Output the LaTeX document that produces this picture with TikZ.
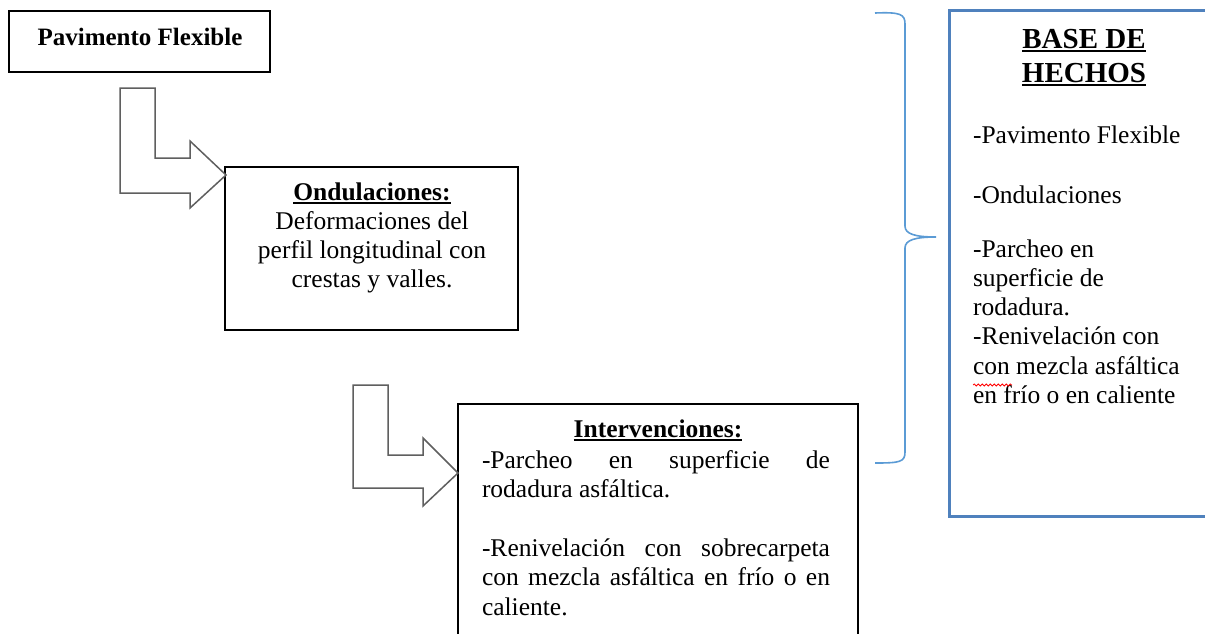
\documentclass[tikz,border=0pt]{standalone}
\usepackage{fontspec}
\setmainfont{Liberation Serif}
\usetikzlibrary{decorations.pathmorphing}
\definecolor{bracecol}{RGB}{91,155,213}
\definecolor{basecol}{RGB}{79,129,189}
\definecolor{arrowcol}{RGB}{95,95,95}
\newcommand\myul[1]{\leavevmode\setbox0\hbox{#1}\rlap{\rule[-4.2pt]{\wd0}{1.8pt}}\box0}
\newcommand\bodyfont{\fontsize{25.5pt}{29.3pt}\selectfont}
\tikzset{
  boxst/.style={draw=black, line width=1.4pt, fill=white},
  basest/.style={draw=basecol, line width=3pt, fill=white},
  bentarrow/.style={draw=arrowcol, line width=1.5pt, fill=white, line join=miter},
  txt/.style={inner sep=0pt, outer sep=0pt},
  bracest/.style={draw=bracecol, line width=1.6pt},
}
\begin{document}
\begin{tikzpicture}[x=1pt,y=-1pt]
\useasboundingbox (0,0) rectangle (1205,633);
\clip (0,0) rectangle (1205,633);
\fill[white] (0,0) rectangle (1205,633);

% boxes
\draw[boxst] (9,11) rectangle (270,72);
\node[txt] (pav) at (139.5,41.5) {};
\node[txt, anchor=base] (pavT) at (140,45) {\fontsize{25pt}{29pt}\selectfont\bfseries Pavimento Flexible};

\draw[boxst] (225,167) rectangle (518,330);
\node[txt] (ond) at (371.5,248.5) {};
\node[txt, anchor=base] (ondT) at (372,200) {\parbox[t]{290pt}{\centering\fontsize{25.5pt}{29pt}\selectfont
  \myul{\bfseries Ondulaciones:}\\
  Deformaciones del\\
  perfil longitudinal con\\
  crestas y valles.}};

\draw[boxst] (458,404) rectangle (858,680);
\node[txt] (int) at (658,540) {};
\node[txt, anchor=base] (intH) at (658,437) {\bodyfont\myul{\bfseries Intervenciones:}};
\node[txt, anchor=base west] (intT) at (482,468) {\parbox[t]{348pt}{\bodyfont
  \makebox[348pt][s]{-Parcheo en superficie de}\\
  rodadura asfáltica.\\[30pt]
  \makebox[348pt][s]{-Renivelación con sobrecarpeta}\\
  \makebox[348pt][s]{con mezcla asfáltica en frío o en}\\
  caliente.}};

\draw[basest] (949,10) rectangle (1230,516);
\node[txt] (base) at (1090,263) {};
\node[txt, anchor=base] (baseH) at (1084,48) {\parbox[t]{200pt}{\centering\fontsize{29pt}{34pt}\selectfont\bfseries
  \myul{BASE DE}\\
  \myul{HECHOS}}};
\node[txt, anchor=base west] (baseT) at (973,143) {\parbox[t]{230pt}{\raggedright\fontsize{25.5pt}{29.3pt}\selectfont
  -Pavimento Flexible\\[30.7pt]
  -Ondulaciones\\[24.7pt]
  -Parcheo en\\
  superficie de\\
  rodadura.\\
  -Renivelación con\\
  con mezcla asfáltica\\
  en frío o en caliente}};
\coordinate (sqa) at (973,385);
\coordinate (sqb) at (1012,385);
\draw[red, line width=0.8pt, decorate, decoration={snake, segment length=4pt, amplitude=1pt}] (sqa) -- (sqb);

% bent arrows
\draw[bentarrow] (120,88) -- (155,88) -- (155,158) -- (190,158) -- (190,141) -- (226,175)
  -- (190,208) -- (190,193) -- (120,193) -- cycle;
\draw[bentarrow] (353,385) -- (388,385) -- (388,455) -- (423,455) -- (423,438) -- (458,473)
  -- (423,506) -- (423,488) -- (353,488) -- cycle;

% brace
\draw[bracest] (875,13) .. controls (900,12) and (905,14) .. (905,24) -- (905,226)
  .. controls (905,234) and (915,237) .. (936,237)
  .. controls (915,237) and (905,240) .. (905,248) -- (905,452)
  .. controls (905,462) and (900,463) .. (875,463);
\end{tikzpicture}
\end{document}
